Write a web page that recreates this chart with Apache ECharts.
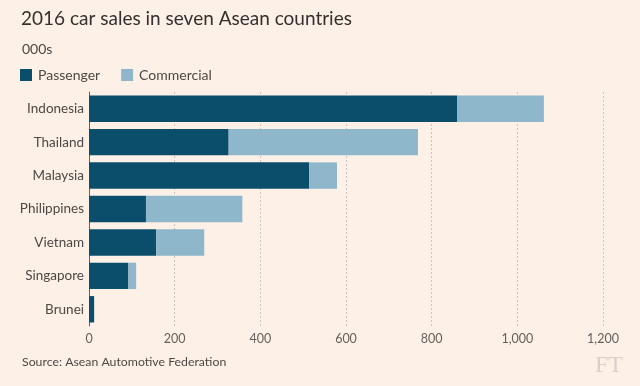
<!DOCTYPE html>
<html><head><meta charset="utf-8">
<script src="https://cdn.jsdelivr.net/npm/echarts@6/dist/echarts.min.js"></script>
<style>html,body{margin:0;padding:0;background:#fdf0e6;}#c{width:640px;height:386px;}</style>
</head><body><div id="c"></div>
<script>
const categories = ['Indonesia','Thailand','Malaysia','Philippines','Vietnam','Singapore','Brunei'];
const passenger = [860, 326, 514, 133, 157, 92, 12];
const commercial = [202, 442, 65, 225, 112, 18, 0];
const xTicks = [0, 200, 400, 600, 800, 1000, 1200];

const font = 'Lato, "Noto Sans", sans-serif';
const chart = echarts.init(document.getElementById('c'), null, {renderer:'canvas'});
chart.setOption({
  backgroundColor: '#fdf0e6',
  animation: false,
  title: [
    {text: '2016 car sales in seven Asean countries', left: 16, top: 4,
     textStyle: {fontFamily: font, fontSize: 19, fontWeight: 'normal', color: '#33302e'}},
    {text: '000s', left: 17, top: 37,
     textStyle: {fontFamily: font, fontSize: 14, fontWeight: 'normal', color: '#4d4845'}},
    {text: 'Source: Asean Automotive Federation', left: 17, top: 351,
     textStyle: {fontFamily: font, fontSize: 12.3, fontWeight: 'normal', color: '#4d4845'}},
    {text: 'FT', left: 590, top: 349,
     textStyle: {fontFamily: '"Liberation Serif", serif', fontSize: 24, fontWeight: 'normal', color: '#d9d0c8'}}
  ],
  legend: {
    left: 15, top: 63, itemWidth: 12, itemHeight: 12, itemGap: 21,
    icon: 'rect',
    textStyle: {fontFamily: font, fontSize: 14, color: '#4d4845', padding: [0,0,0,1]},
    data: ['Passenger','Commercial']
  },
  grid: {left: 89, right: 37, top: 92, height: 234, containLabel: false},
  xAxis: {
    type: 'value', min: 0, max: 1200, interval: 200,
    axisLine: {show: false}, axisTick: {show: false},
    splitLine: {show: true, lineStyle: {color: '#c9c2bc', type: [2,2], width: 1}},
    axisLabel: {fontFamily: font, fontSize: 12.5, color: '#66605c', margin: 6,
      formatter: v => xTicks.includes(v) ? v.toLocaleString('en-US') : ''}
  },
  yAxis: {
    type: 'category', data: categories, inverse: true,
    axisLine: {show: true, lineStyle: {color: '#66605c', width: 1}},
    axisTick: {show: false},
    axisLabel: {fontFamily: font, fontSize: 13.5, color: '#4d4845', margin: 5}
  },
  series: [
    {name: 'Passenger', type: 'bar', stack: 's', data: passenger, barCategoryGap: '21%',
     itemStyle: {color: '#0b4e6b'}},
    {name: 'Commercial', type: 'bar', stack: 's', data: commercial,
     itemStyle: {color: '#8fb7cb'}}
  ]
});
</script></body></html>
